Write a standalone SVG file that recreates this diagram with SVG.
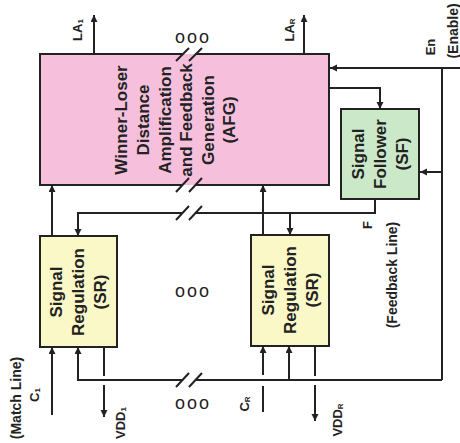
<svg xmlns="http://www.w3.org/2000/svg" width="460" height="443" viewBox="0 0 460 443">
<defs>
<marker id="ah" markerUnits="userSpaceOnUse" markerWidth="8" markerHeight="8" refX="7" refY="3.5" orient="auto"><path d="M0,0 L7,3.5 L0,7 z" fill="#222"/></marker>
<style>
.w{stroke:#222;stroke-width:2;fill:none}
.a{marker-end:url(#ah)}
.t{font-family:"Liberation Sans",Arial,sans-serif;font-weight:bold;fill:#222;text-anchor:middle;dominant-baseline:central}
.big{font-size:17px}
.lab{font-size:13px}
.sm{font-size:14px}
.dots{font-family:"Liberation Sans",Arial,sans-serif;font-size:18px;fill:#222;letter-spacing:2px;text-anchor:middle;dominant-baseline:central}
</style>
</defs>
<rect width="460" height="443" fill="#fff"/>

<g id="afg">
<rect x="40" y="54" width="289" height="131" fill="#f6c0dc"/>
<path class="w" d="M183,54 H40 V185 H183 M195,185 H329 V54 H195"/>
<text class="t big" transform="translate(121,120) rotate(-90)">Winner-Loser</text>
<text class="t big" transform="translate(143,120) rotate(-90)">Distance</text>
<text class="t big" transform="translate(165,120) rotate(-90)">Amplification</text>
<text class="t big" transform="translate(186,120) rotate(-90)">and Feedback</text>
<text class="t big" transform="translate(208,120) rotate(-90)">Generation</text>
<text class="t big" transform="translate(229,120) rotate(-90)">(AFG)</text>
</g>

<g id="sf">
<rect x="341" y="109" width="78" height="90" fill="#cbe8c9" stroke="#222" stroke-width="2"/>
<text class="t big" transform="translate(358,154) rotate(-90)">Signal</text>
<text class="t big" transform="translate(380,154) rotate(-90)">Follower</text>
<text class="t big" transform="translate(402,154) rotate(-90)">(SF)</text>
</g>

<g id="sr1">
<rect x="40" y="236" width="77" height="111" fill="#fbf8c8" stroke="#222" stroke-width="2"/>
<text class="t big" transform="translate(56,292) rotate(-90)">Signal</text>
<text class="t big" transform="translate(78,292) rotate(-90)">Regulation</text>
<text class="t big" transform="translate(100,292) rotate(-90)">(SR)</text>
</g>

<g id="srR">
<rect x="251" y="235" width="78" height="111" fill="#fbf8c8" stroke="#222" stroke-width="2"/>
<text class="t big" transform="translate(268,290) rotate(-90)">Signal</text>
<text class="t big" transform="translate(290,290) rotate(-90)">Regulation</text>
<text class="t big" transform="translate(312,290) rotate(-90)">(SR)</text>
</g>

<g id="connectors">
<path class="w a" d="M94,54 V15"/>
<path class="w a" d="M304,54 V15"/>
<path class="w a" d="M460,68 H330"/>
<path class="w" d="M442,68 V380"/>
<path class="w a" d="M442,172 H420"/>
<path class="w a" d="M329,88 H380 V109"/>
<path class="w a" d="M375,199 V213 H195 M183,213 H78 V236"/>
<path class="w a" d="M290,213 V235"/>
<path class="w a" d="M52,236 V185"/>
<path class="w a" d="M263,235 V185"/>
<path class="w a" d="M52,415 V347"/>
<path class="w a" d="M442,380 H195 M183,380 H78 V347"/>
<path class="w a" d="M104,347 V376 M104,385 V417"/>
<path class="w a" d="M263,412 V386 M263,375 V346"/>
<path class="w a" d="M289,380 V346"/>
<path class="w a" d="M315,346 V376 M315,385 V421"/>
<g class="w" stroke-width="1.8">
<path d="M176,61 L189,48 M189,61 L202,48"/>
<path d="M176,192 L189,178 M189,192 L202,178"/>
<path d="M176,220 L189,206 M189,220 L202,206"/>
<path d="M176,387 L189,373 M189,387 L202,373"/>
</g>
</g>

<g id="labels">
<text class="dots" x="193" y="37">ooo</text>
<text class="dots" x="193" y="291">ooo</text>
<text class="dots" x="193" y="403">ooo</text>
<text class="t lab" transform="translate(77,30) rotate(-90)">LA<tspan font-size="8" dy="3">1</tspan></text>
<text class="t lab" transform="translate(289,30) rotate(-90)">LA<tspan font-size="8" dy="3">R</tspan></text>
<text class="t lab" transform="translate(430,47) rotate(-90)">En</text>
<text class="t sm" transform="translate(453,31) rotate(-90)">(Enable)</text>
<text class="t lab" transform="translate(367,225) rotate(-90)">F</text>
<text class="t sm" transform="translate(392,275) rotate(-90)">(Feedback Line)</text>
<text class="t sm" transform="translate(16,398) rotate(-90)">(Match Line)</text>
<text class="t lab" transform="translate(34,395) rotate(-90)">C<tspan font-size="8" dy="3">1</tspan></text>
<text class="t lab" transform="translate(120,423) rotate(-90)">VDD<tspan font-size="8" dy="3">1</tspan></text>
<text class="t lab" transform="translate(244,404) rotate(-90)">C<tspan font-size="8" dy="3">R</tspan></text>
<text class="t lab" transform="translate(337,420) rotate(-90)">VDD<tspan font-size="8" dy="3">R</tspan></text>
</g>
</svg>
